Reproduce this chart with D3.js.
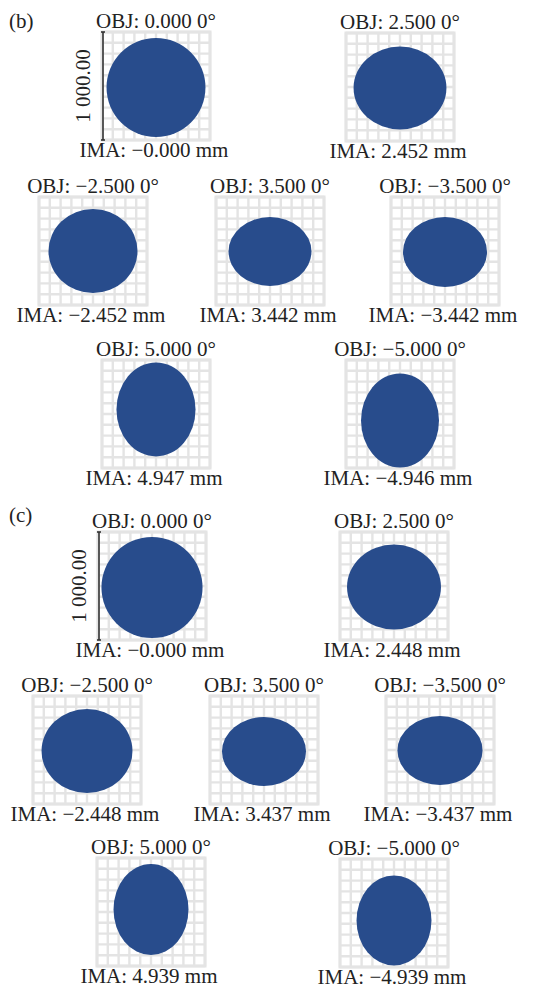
<!DOCTYPE html>
<html>
<head>
<meta charset="utf-8">
<script src="https://cdn.jsdelivr.net/npm/d3@7"></script>
<style>
  html, body { margin: 0; padding: 0; background: #fff; }
  svg { display: block; }
  text { font-family: "Liberation Serif", "Times New Roman", serif; fill: #222; }
</style>
</head>
<body>
<svg id="chart" width="541" height="989"></svg>
<script>
// ---------------- data ----------------
const groupLabels = ["(b)", "(c)"];
const objLabels = ["OBJ: 0.000 0°", "OBJ: 2.500 0°", "OBJ: −2.500 0°", "OBJ: 3.500 0°",
                   "OBJ: −3.500 0°", "OBJ: 5.000 0°", "OBJ: −5.000 0°"];
const imaLabelsB = ["IMA: −0.000 mm", "IMA: 2.452 mm", "IMA: −2.452 mm", "IMA: 3.442 mm",
                    "IMA: −3.442 mm", "IMA: 4.947 mm", "IMA: −4.946 mm"];
const imaLabelsC = ["IMA: −0.000 mm", "IMA: 2.448 mm", "IMA: −2.448 mm", "IMA: 3.437 mm",
                    "IMA: −3.437 mm", "IMA: 4.939 mm", "IMA: −4.939 mm"];
// spot semi-axes and centroid offset (µm), box = 1000 µm
const spotRxB = [458, 430, 412, 384, 389, 366, 361];
const spotRyB = [458, 384, 389, 319, 324, 435, 435];
const spotDyB = [14, 9, 0, 5, 9, -42, 60];
const spotRxC = [468, 435, 421, 389, 394, 347, 347];
const spotRyC = [468, 394, 389, 319, 319, 421, 417];
const spotDyC = [14, 9, 9, 14, 5, -23, 69];
const scaleBarValue = 1000;
const scaleBarLabel = "1 000.00";

// ---------------- layout ----------------
const boxSize = 108;
const layoutB = [[102, 32], [346, 33], [39, 197], [216, 197], [391, 197], [102, 360], [346, 360]];
const layoutC = [[98, 532], [340, 532], [33, 696], [210, 696], [386, 696], [97, 858], [340, 859]];
const groupLabelPos = [[9, 28], [9, 522]];
const fontSize = 21;
const spotColor = "#284c8c";
const gridColor = "#e4e4e4";

const svg = d3.select("#chart");

function drawGroup(gi, layout, imaLabels, rx, ry, dy) {
  svg.append("text")
    .attr("x", groupLabelPos[gi][0]).attr("y", groupLabelPos[gi][1])
    .attr("font-size", fontSize)
    .text(groupLabels[gi]);

  objLabels.forEach((obj, i) => {
    const [left, top] = layout[i];
    const x = d3.scaleLinear().domain([-scaleBarValue / 2, scaleBarValue / 2]).range([left, left + boxSize]);
    const y = d3.scaleLinear().domain([-scaleBarValue / 2, scaleBarValue / 2]).range([top, top + boxSize]);
    const g = svg.append("g");
    const ticks = d3.range(-500, 501, 100);

    // grid
    g.append("rect")
      .attr("x", x(-500)).attr("y", y(-500))
      .attr("width", x(500) - x(-500)).attr("height", y(500) - y(-500))
      .attr("fill", "#fff").attr("stroke", gridColor).attr("stroke-width", 3);
    g.selectAll(".vl").data(ticks).join("line")
      .attr("x1", d => x(d)).attr("x2", d => x(d))
      .attr("y1", y(-500)).attr("y2", y(500))
      .attr("stroke", gridColor).attr("stroke-width", 2.4);
    g.selectAll(".hl").data(ticks).join("line")
      .attr("y1", d => y(d)).attr("y2", d => y(d))
      .attr("x1", x(-500)).attr("x2", x(500))
      .attr("stroke", gridColor).attr("stroke-width", 2.4);

    // spot
    g.append("ellipse")
      .attr("cx", x(0)).attr("cy", y(dy[i]))
      .attr("rx", x(rx[i]) - x(0)).attr("ry", y(ry[i]) - y(0))
      .attr("fill", spotColor);

    // labels
    const cxm = (x(-500) + x(500)) / 2;
    g.append("text")
      .attr("x", cxm).attr("y", y(-500) - 4.5)
      .attr("text-anchor", "middle").attr("font-size", fontSize)
      .text(obj);
    g.append("text")
      .attr("x", cxm - 2).attr("y", y(500) + 17)
      .attr("text-anchor", "middle").attr("font-size", fontSize)
      .text(imaLabels[i]);

    // scale bar on the first panel
    if (i === 0) {
      const bx = x(-500) + 1;
      const b = svg.append("g").attr("stroke", "#333").attr("stroke-width", 1.6);
      b.append("line").attr("x1", bx).attr("x2", bx)
        .attr("y1", y(-scaleBarValue / 2)).attr("y2", y(scaleBarValue / 2));
      b.append("line").attr("x1", bx - 2).attr("x2", bx + 2)
        .attr("y1", y(-scaleBarValue / 2)).attr("y2", y(-scaleBarValue / 2));
      b.append("line").attr("x1", bx - 2).attr("x2", bx + 2)
        .attr("y1", y(scaleBarValue / 2)).attr("y2", y(scaleBarValue / 2));
      svg.append("text")
        .attr("transform", `translate(${bx - 13},${y(0)}) rotate(-90)`)
        .attr("text-anchor", "middle").attr("font-size", fontSize)
        .text(scaleBarLabel);
    }
  });
}

drawGroup(0, layoutB, imaLabelsB, spotRxB, spotRyB, spotDyB);
drawGroup(1, layoutC, imaLabelsC, spotRxC, spotRyC, spotDyC);
</script>
</body>
</html>
